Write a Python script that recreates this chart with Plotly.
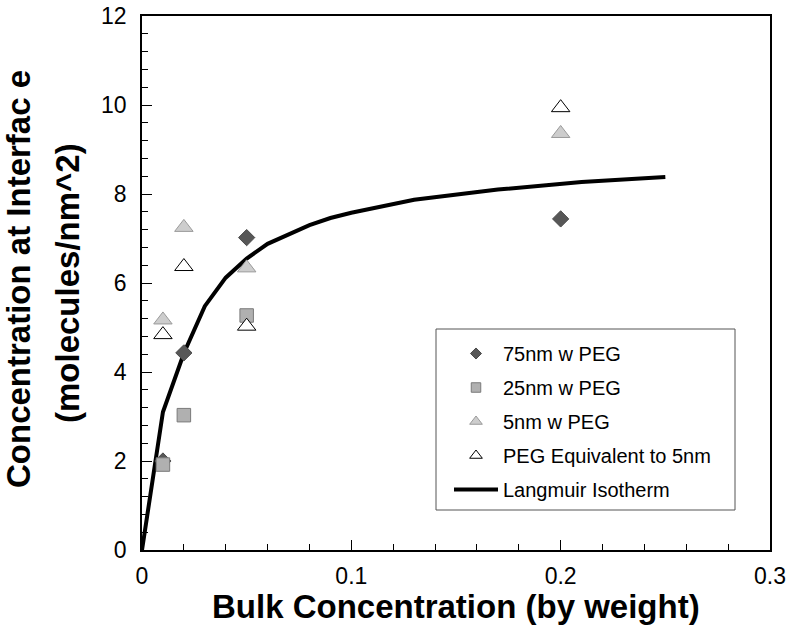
import plotly.graph_objects as go

# ---- data ----
conc = [0.01, 0.02, 0.05, 0.2]
conc_25 = [0.01, 0.02, 0.05]
peg75 = [2.0, 4.43, 7.02, 7.44]
peg25 = [1.92, 3.03, 5.27]
peg5 = [5.17, 7.25, 6.34, 9.36]
peg_equiv = [4.84, 6.37, 5.03, 9.94]

langmuir_x = [0, 0.01, 0.02, 0.03, 0.04, 0.05, 0.06, 0.07, 0.08, 0.09, 0.1, 0.13, 0.17, 0.21, 0.25]
langmuir_y = [0, 3.1, 4.42, 5.48, 6.12, 6.55, 6.88, 7.1, 7.3, 7.46, 7.58, 7.87, 8.1, 8.27, 8.38]

x_ticks = [0, 0.1, 0.2, 0.3]
x_ticklabels = ["0", "0.1", "0.2", "0.3"]
y_ticks = [0, 2, 4, 6, 8, 10, 12]
y_ticklabels = ["0", "2", "4", "6", "8", "10", "12"]

names = ["75nm w PEG", "25nm w PEG", "5nm w PEG", "PEG Equivalent to 5nm", "Langmuir Isotherm"]

FONT = "Liberation Sans, Arial, Helvetica, sans-serif"

# plot area in pixels
L, R, T, B = 142, 770, 16, 550
PW, PH = R - L, B - T


def px_x(p):
    return (p - L) / PW


def px_y(p):
    return (B - p) / PH


fig = go.Figure()

# data traces (no legend)
fig.add_trace(go.Scatter(x=langmuir_x, y=langmuir_y, mode="lines",
                         line=dict(color="black", width=4), showlegend=False))
fig.add_trace(go.Scatter(x=conc, y=peg75, mode="markers", showlegend=False,
                         marker=dict(symbol="diamond", size=12.5, color="#575757",
                                     line=dict(color="#4a4a4a", width=1))))
fig.add_trace(go.Scatter(x=conc_25, y=peg25, mode="markers", showlegend=False,
                         marker=dict(symbol="square", size=13.5, color="#b0b0b0",
                                     line=dict(color="#7a7a7a", width=1))))
fig.add_trace(go.Scatter(x=conc, y=peg5, mode="markers", showlegend=False,
                         marker=dict(symbol="triangle-up", size=16, color="#cdcdcd",
                                     line=dict(color="#9a9a9a", width=1))))
fig.add_trace(go.Scatter(x=conc, y=peg_equiv, mode="markers", showlegend=False,
                         marker=dict(symbol="triangle-up", size=16, color="white",
                                     line=dict(color="black", width=1))))

# legend entries
leg_styles = [
    dict(mode="markers", marker=dict(symbol="diamond", size=8.5, color="#575757",
                                     line=dict(color="#4a4a4a", width=1))),
    dict(mode="markers", marker=dict(symbol="square", size=9.5, color="#b0b0b0",
                                     line=dict(color="#7a7a7a", width=1))),
    dict(mode="markers", marker=dict(symbol="triangle-up", size=11, color="#cdcdcd",
                                     line=dict(color="#9a9a9a", width=1))),
    dict(mode="markers", marker=dict(symbol="triangle-up", size=11, color="white",
                                     line=dict(color="black", width=1))),
    dict(mode="lines", line=dict(color="black", width=4)),
]
for i, (nm, st) in enumerate(zip(names, leg_styles)):
    fig.add_trace(go.Scatter(x=[None], y=[None], name=nm, legendgroup=f"g{i}",
                             showlegend=True, **st))

fig.update_layout(
    width=787, height=637,
    margin=dict(l=L, r=787 - R, t=T, b=637 - B, autoexpand=False),
    paper_bgcolor="white", plot_bgcolor="white",
    font=dict(family=FONT, color="black"),
    showlegend=True,
    legend=dict(
        x=px_x(449), y=px_y(334), xanchor="left", yanchor="top",
        bgcolor="rgba(0,0,0,0)", borderwidth=0,
        font=dict(family=FONT, size=20, color="black"),
        itemwidth=44, tracegroupgap=5, itemsizing="trace",
    ),
    shapes=[
        dict(type="rect", xref="paper", yref="paper",
             x0=px_x(436), x1=px_x(735), y0=px_y(510), y1=px_y(329),
             line=dict(color="#555555", width=1), fillcolor="white", layer="above"),
    ],
    xaxis=dict(
        range=[0, 0.3], tickmode="array", tickvals=x_ticks, ticktext=x_ticklabels,
        ticks="inside", ticklen=10, tickwidth=1.3, tickcolor="black",
        minor=dict(dtick=0.02, ticks="inside", ticklen=6, tickwidth=1.3, tickcolor="black"),
        showline=True, linecolor="black", linewidth=1.5, mirror=True,
        showgrid=False, zeroline=False, automargin=False,
        tickfont=dict(family=FONT, size=23, color="black"),
        ticklabelstandoff=5,
    ),
    yaxis=dict(
        range=[0, 12], tickmode="array", tickvals=y_ticks, ticktext=y_ticklabels,
        ticks="inside", ticklen=10, tickwidth=1.3, tickcolor="black",
        minor=dict(dtick=0.4, ticks="inside", ticklen=6, tickwidth=1.3, tickcolor="black"),
        showline=True, linecolor="black", linewidth=1.5, mirror=True,
        showgrid=False, zeroline=False, automargin=False,
        tickfont=dict(family=FONT, size=23, color="black"),
        ticklabelstandoff=9,
    ),
    annotations=[
        dict(text="<b>Bulk Concentration (by weight)</b>", xref="paper", yref="paper",
             x=0.5, y=0, xanchor="center", yanchor="middle", yshift=-56, showarrow=False,
             font=dict(family=FONT, size=33, color="black")),
        dict(text="<b>Concentration at Interfac e</b>", xref="paper", yref="paper",
             x=0, y=0.5, xanchor="center", yanchor="middle", xshift=18 - L, yshift=4,
             textangle=-90, showarrow=False,
             font=dict(family=FONT, size=33, color="black")),
        dict(text="<b>(molecules/nm^2)</b>", xref="paper", yref="paper",
             x=0, y=0.5, xanchor="center", yanchor="middle", xshift=67 - L, yshift=0,
             textangle=-90, showarrow=False,
             font=dict(family=FONT, size=33, color="black")),
    ],
)

fig.write_html("out.html", config={"displayModeBar": False},
               post_script="document.body.style.margin='0px';document.body.style.overflow='hidden';")
